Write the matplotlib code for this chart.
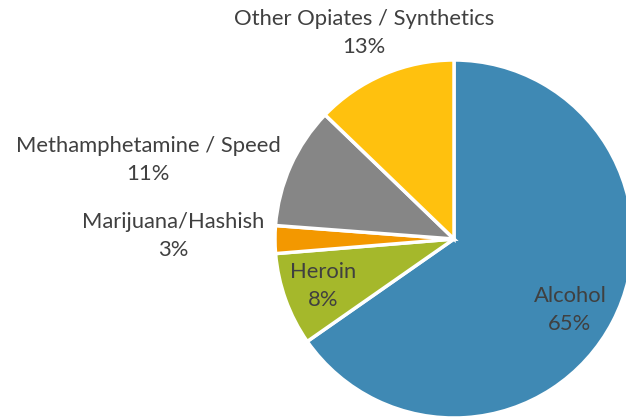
import numpy as np
import matplotlib
matplotlib.use('Agg')
import matplotlib.pyplot as plt

#---    Data (shares, labels as printed)
categories = ['Alcohol', 'Heroin', 'Marijuana/Hashish', 'Methamphetamine / Speed', 'Other Opiates / Synthetics']
shares = [65.3, 8.4, 2.5, 11.0, 12.8]
pct_labels = ['65%', '8%', '3%', '11%', '13%']
colors = ['#3F89B4', '#A5B82B', '#F39800', '#868686', '#FFC10E']

#---    Label placement (relative to pie centre, in radii)
label_offsets = [(0.648, -0.397), (-0.732, -0.263), (-1.570, 0.017), (-1.709, 0.441), (-0.503, 1.151)]

plt.rcParams['font.family'] = ['Lato', 'DejaVu Sans']

fig = plt.figure(figsize=(6.26, 4.18), dpi=100)
ax = fig.add_axes([0, 0, 1, 1])

cx, cy, r = 454, 418 - 239, 179
wedges, _ = ax.pie(shares, colors=colors, startangle=90, counterclock=False,
                   center=(cx, cy), radius=r, frame=True,
                   wedgeprops=dict(edgecolor='white', linewidth=2.5))
ax.set_xlim(0, 626)
ax.set_ylim(0, 418)
ax.set_aspect('equal')
ax.axis('off')

for cat, pct, (dx, dy) in zip(categories, pct_labels, label_offsets):
    ax.text(cx + dx * r, cy + dy * r, cat + '\n' + pct, ha='center', va='center',
            fontsize=15.8, color='#404040', linespacing=1.55)

plt.savefig('out.png', dpi=100)
